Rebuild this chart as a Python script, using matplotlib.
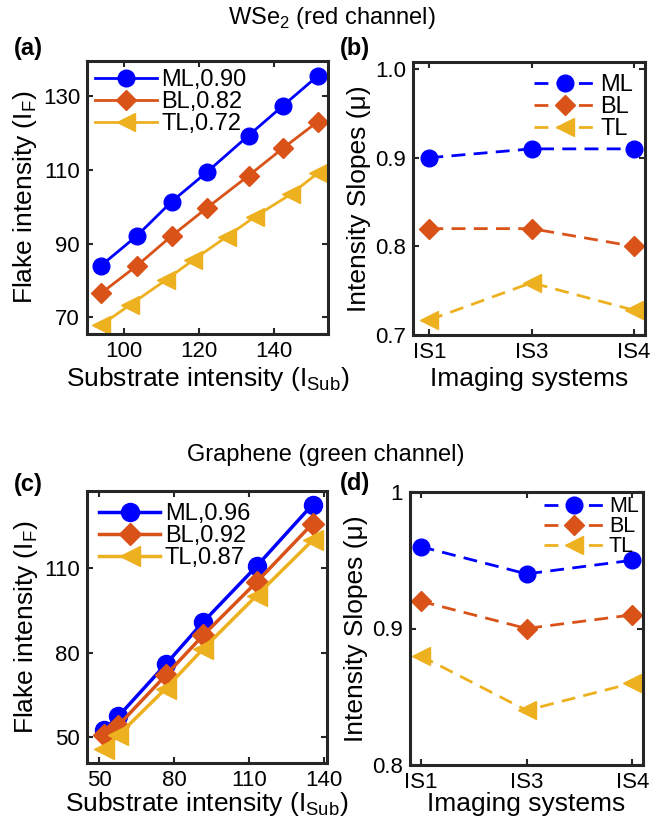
import matplotlib
matplotlib.use("Agg")
import matplotlib.pyplot as plt

plt.rcParams['font.family'] = ['Liberation Sans', 'DejaVu Sans']
plt.rcParams['mathtext.fontset'] = 'custom'
plt.rcParams['mathtext.rm'] = 'Liberation Sans'

BLUE = '#0000ff'
ORANGE = '#d95319'
YELLOW = '#edb120'
DARK = '#262626'

# (a) WSe2, red channel
a_ml_x = [93.8, 103.4, 112.7, 122.0, 133.2, 142.3, 151.6]
a_ml_y = [84.0, 92.1, 101.4, 109.3, 119.3, 127.3, 135.4]
a_bl_x = [93.8, 103.4, 112.7, 122.0, 133.2, 142.3, 151.6]
a_bl_y = [76.5, 84.0, 92.1, 99.6, 108.4, 115.8, 123.0]
a_tl_x = [93.8, 101.6, 111.1, 118.5, 127.4, 134.9, 144.5, 151.8]
a_tl_y = [67.9, 73.4, 80.1, 85.6, 91.9, 97.3, 103.4, 109.2]
a_labels = ['ML,0.90', 'BL,0.82', 'TL,0.72']

# (b) slopes, red channel
systems = ['IS1', 'IS3', 'IS4']
b_ml = [0.90, 0.91, 0.91]
b_bl = [0.82, 0.82, 0.80]
b_tl = [0.717, 0.759, 0.728]

# (c) graphene, green channel
c_x = [51.9, 57.6, 76.6, 91.6, 113.0, 135.4]
c_ml = [52.4, 57.3, 75.8, 90.8, 110.6, 132.5]
c_bl = [50.6, 54.1, 71.9, 86.1, 105.0, 125.7]
c_tl = [45.9, 50.6, 67.2, 81.3, 100.2, 119.8]
c_labels = ['ML,0.96', 'BL,0.92', 'TL,0.87']

# (d) slopes, green channel
d_ml = [0.96, 0.94, 0.95]
d_bl = [0.92, 0.90, 0.91]
d_tl = [0.88, 0.84, 0.86]

fig = plt.figure(figsize=(6.51, 8.27), dpi=100)

W, H = 651, 827


def box(l, t, r, b):
    return [l / W, 1 - b / H, (r - l) / W, (b - t) / H]


def style(ax):
    for s in ax.spines.values():
        s.set_linewidth(2.2)
        s.set_color(DARK)
    ax.tick_params(direction='in', top=True, right=True, length=4, width=1.5,
                   labelsize=16, colors=DARK, labelcolor='black', pad=5)


ax_a = fig.add_axes(box(87, 61, 328, 334))
ax_b = fig.add_axes(box(413, 62, 645, 335))
ax_c = fig.add_axes(box(87, 491, 327, 763))
ax_d = fig.add_axes(box(410, 492, 643, 765))

series = [(BLUE, 'o'), (ORANGE, 'D'), (YELLOW, '<')]
msz = {'o': 12, 'D': 10, '<': 13}

# panel a
for (x, y), (c, m), lab in zip([(a_ml_x, a_ml_y), (a_bl_x, a_bl_y), (a_tl_x, a_tl_y)], series, a_labels):
    ax_a.plot(x, y, color=c, marker=m, ms=msz[m], lw=2, label=lab)
ax_a.set_xlim(90.1, 154.4)
ax_a.set_ylim(65.5, 139.5)
ax_a.set_xticks([100, 120, 140])
ax_a.set_yticks([70, 90, 110, 130])
ax_a.set_xlabel('Substrate intensity (I$_{\\mathregular{Sub}}$)', fontsize=19, labelpad=2)
ax_a.set_ylabel('Flake intensity (I$_{\\mathregular{F}}$)', fontsize=19, labelpad=3)
ax_a.legend(loc='upper left', frameon=False, fontsize=17, labelspacing=0.0,
            handlelength=2.6, handletextpad=0.2, borderaxespad=0.1, borderpad=0.25)
style(ax_a)

# panel b
xs = [1, 2, 3]
for vals, (c, m), lab in zip([b_ml, b_bl, b_tl], series, ['ML', 'BL', 'TL']):
    ax_b.plot(xs, vals, color=c, marker=m, ms=msz[m], lw=2, ls=(0, (5, 3)), label=lab)
ax_b.set_xlim(0.84, 3.11)
ax_b.set_ylim(0.7, 1.008)
ax_b.set_xticks(xs)
ax_b.set_xticklabels(systems)
ax_b.set_yticks([0.7, 0.8, 0.9, 1.0])
ax_b.set_yticklabels(['0.7', '0.8', '0.9', '1.0'])
ax_b.set_xlabel('Imaging systems', fontsize=19, labelpad=3)
ax_b.set_ylabel('Intensity Slopes (μ)', fontsize=19, labelpad=3)
ax_b.legend(loc='upper right', frameon=False, fontsize=17, labelspacing=0.0,
            handlelength=2.6, handletextpad=0.2, borderaxespad=0.3, borderpad=0.2)
style(ax_b)

# panel c
for y, (c, m), lab in zip([c_ml, c_bl, c_tl], series, c_labels):
    ax_c.plot(c_x, y, color=c, marker=m, ms=msz[m] + 1, lw=2.5, label=lab)
ax_c.set_xlim(45.1, 141.2)
ax_c.set_ylim(40.8, 137.3)
ax_c.set_xticks([50, 80, 110, 140])
ax_c.set_yticks([50, 80, 110])
ax_c.set_xlabel('Substrate intensity (I$_{\\mathregular{Sub}}$)', fontsize=19, labelpad=-1)
ax_c.set_ylabel('Flake intensity (I$_{\\mathregular{F}}$)', fontsize=19, labelpad=3)
ax_c.legend(loc='upper left', frameon=False, fontsize=17, labelspacing=0.0,
            handlelength=2.6, handletextpad=0.2, borderaxespad=0.2, borderpad=0.3)
style(ax_c)

# panel d
for vals, (c, m), lab in zip([d_ml, d_bl, d_tl], series, ['ML', 'BL', 'TL']):
    ax_d.plot(xs, vals, color=c, marker=m, ms=msz[m], lw=2, ls=(0, (5, 3)), label=lab)
ax_d.set_xlim(0.9, 3.1)
ax_d.set_ylim(0.8, 1.0)
ax_d.set_xticks(xs)
ax_d.set_xticklabels(systems)
ax_d.set_yticks([0.8, 0.9, 1.0])
ax_d.set_yticklabels(['0.8', '0.9', '1'])
ax_d.set_xlabel('Imaging systems', fontsize=19, labelpad=-1)
ax_d.set_ylabel('Intensity Slopes (μ)', fontsize=19, labelpad=3)
ax_d.legend(loc='upper right', frameon=False, fontsize=15.5, labelspacing=-0.05,
            handlelength=2.8, handletextpad=0.2, borderaxespad=0.1, borderpad=0.1)
style(ax_d)

# titles and panel letters
fig.text(332 / W, 1 - 18 / H, 'WSe$_{\\mathregular{2}}$ (red channel)', fontsize=17,
         ha='center', va='center')
fig.text(326 / W, 1 - 455 / H, 'Graphene (green channel)', fontsize=17,
         ha='center', va='center')
for lab, x, y in [('(a)', 28, 48), ('(b)', 355, 48), ('(c)', 28, 485), ('(d)', 355, 484)]:
    fig.text(x / W, 1 - y / H, lab, fontsize=17, fontweight='bold', ha='center', va='center')

fig.savefig('out.png', dpi=100)
